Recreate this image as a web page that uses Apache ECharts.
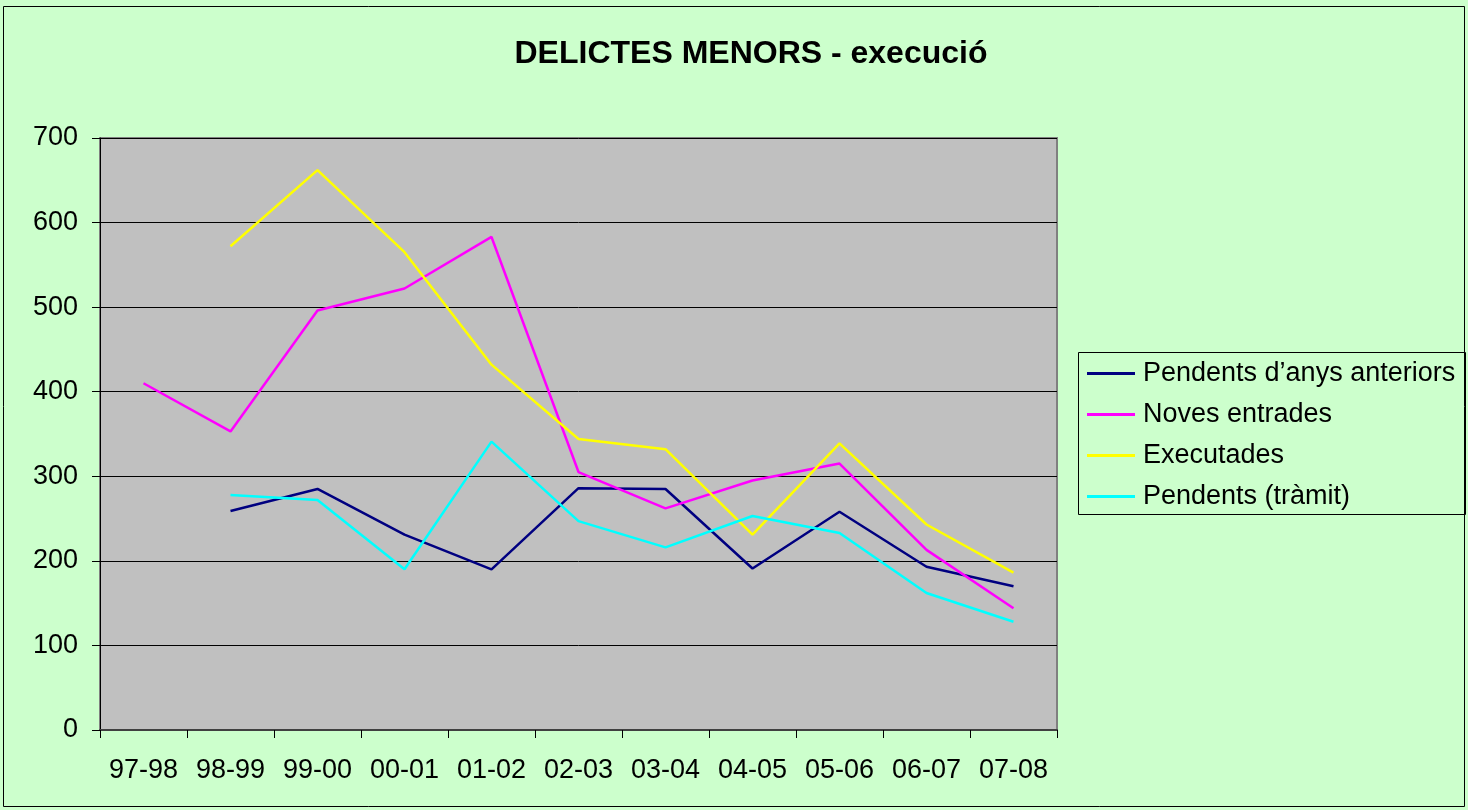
<!DOCTYPE html>
<html>
<head>
<meta charset="utf-8">
<script src="https://cdn.jsdelivr.net/npm/echarts@6/dist/echarts.min.js"></script>
<style>
html,body{margin:0;padding:0;background:#CCFFCC;}
#chart{width:1468px;height:810px;}
</style>
</head>
<body>
<div id="chart"></div>
<script>
const categories = ['97-98','98-99','99-00','00-01','01-02','02-03','03-04','04-05','05-06','06-07','07-08'];
const pendentsAnteriors = [null, 259, 285, 231, 190, 286, 285, 191, 258, 193, 170];
const novesEntrades = [410, 353, 496, 522, 583, 305, 262, 295, 315, 213, 144];
const executades = [null, 572, 662, 565, 432, 344, 332, 231, 339, 243, 186];
const pendentsTramit = [null, 278, 272, 190, 341, 247, 216, 253, 233, 162, 128];
const seriesNames = ["Pendents d\u2019anys anteriors", 'Noves entrades', 'Executades', 'Pendents (tr\u00e0mit)'];
const seriesColors = ['#000080', '#FF00FF', '#FFFF00', '#00FFFF'];
const seriesData = [pendentsAnteriors, novesEntrades, executades, pendentsTramit];
const yTicks = [0, 100, 200, 300, 400, 500, 600, 700];

const chart = echarts.init(document.getElementById('chart'));
const FONT = 'Liberation Sans, Arial, sans-serif';
chart.setOption({
  backgroundColor: '#CCFFCC',
  animation: false,
  title: {
    text: 'DELICTES MENORS - execuci\u00f3',
    left: 746, top: 33, textAlign: 'center',
    textStyle: {fontFamily: FONT, fontSize: 32, fontWeight: 'bold', color: '#000'}
  },
  graphic: [{
    type: 'rect', shape: {x: 3.5, y: 6.5, width: 1461, height: 800},
    style: {fill: 'none', stroke: '#000', lineWidth: 1}, silent: true, z: 100
  }, {
    type: 'rect', shape: {x: 1078.5, y: 352.5, width: 387, height: 162},
    style: {fill: 'none', stroke: '#000', lineWidth: 1}, silent: true, z: 100
  }],
  legend: {
    orient: 'vertical', left: 1078, top: 352,
    padding: [8, 0, 8, 9],
    itemWidth: 48, itemHeight: 3, itemGap: 14,
    icon: 'rect',
    textStyle: {fontFamily: FONT, fontSize: 27, color: '#000', lineHeight: 26, padding: [0,0,0,3]},
    data: seriesNames
  },
  grid: {
    left: 100, right: 411, top: 138, bottom: 80,
    show: true, backgroundColor: '#C0C0C0', borderColor: '#808080', borderWidth: 2
  },
  xAxis: {
    type: 'category', data: categories, boundaryGap: true,
    axisLine: {lineStyle: {color: '#404040', width: 2}},
    axisTick: {show: true, inside: false, length: 8, alignWithLabel: false, lineStyle: {color: '#000', width: 1}},
    axisLabel: {fontFamily: FONT, fontSize: 27, color: '#000', margin: 27, interval: 0}
  },
  yAxis: {
    type: 'value', min: yTicks[0], max: yTicks[yTicks.length - 1], interval: 100,
    axisLine: {show: true, lineStyle: {color: '#000', width: 1}},
    axisTick: {show: true, length: 8, lineStyle: {color: '#000'}},
    axisLabel: {fontFamily: FONT, fontSize: 27, color: '#000', margin: 22},
    splitLine: {show: true, lineStyle: {color: '#000', width: 1}}
  },
  series: seriesData.map((d, i) => ({
    name: seriesNames[i], type: 'line', data: d,
    symbol: 'none', showSymbol: false, connectNulls: false,
    lineStyle: {color: seriesColors[i], width: 2.5},
    itemStyle: {color: seriesColors[i]}
  }))
});
</script>
</body>
</html>
